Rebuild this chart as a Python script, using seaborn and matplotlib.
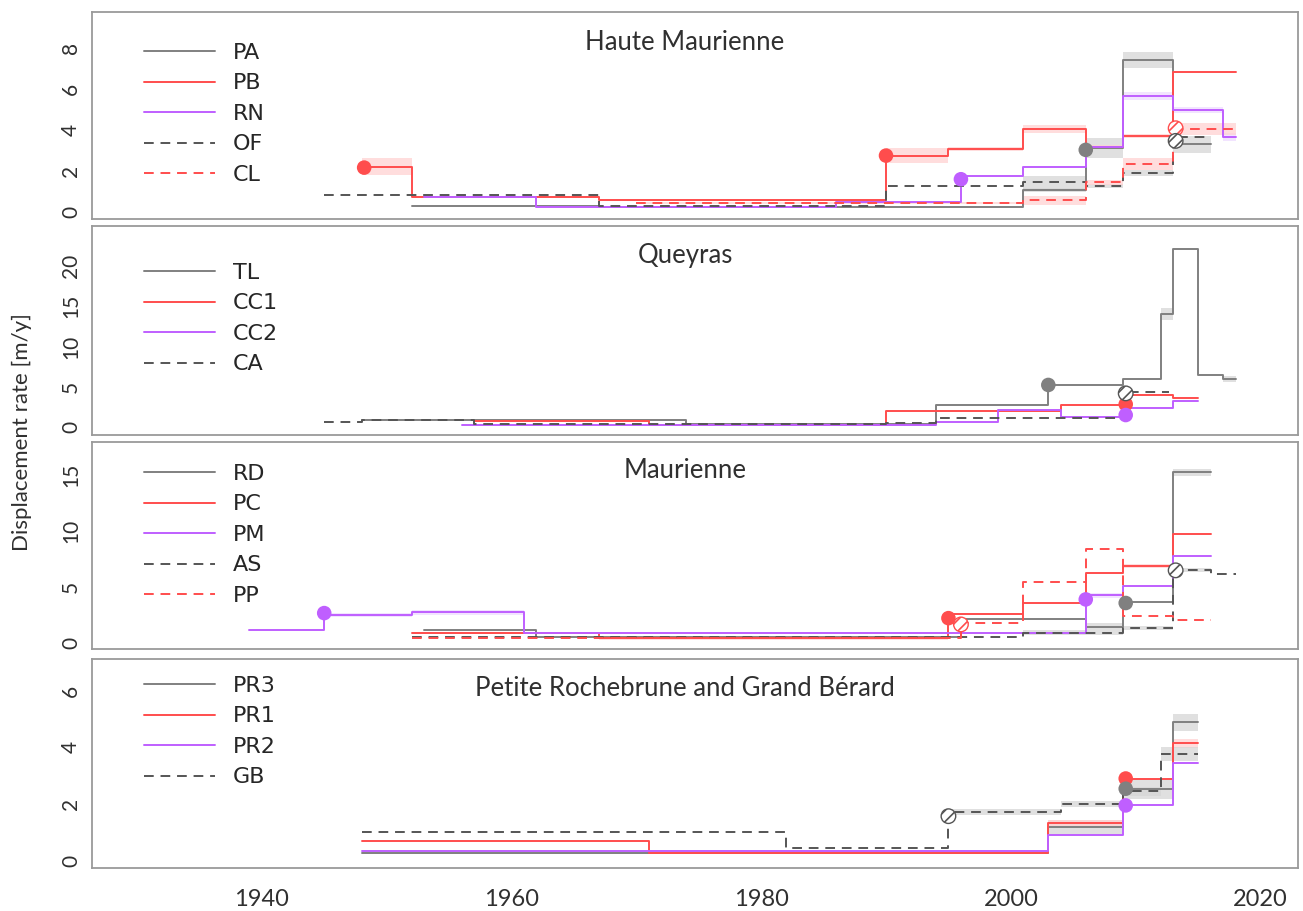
import numpy as np
import matplotlib
matplotlib.use("Agg")
import matplotlib.pyplot as plt
import seaborn as sns
from matplotlib.lines import Line2D

# ==========================================
# 1. STYLE
# ==========================================
sns.set_style("white")
plt.rcParams["font.family"] = ["Lato", "DejaVu Sans"]
plt.rcParams["hatch.linewidth"] = 1.2

GRAY = "#808080"
DGRAY = "#555555"
RED = "#ff4d4d"
PURPLE = "#bf5fff"
BAND = {GRAY: "#d6d6d6", DGRAY: "#d6d6d6", RED: "#ffd2d2", PURPLE: "#eedcff"}
EDGE = "#9a9a9a"
TXT = "#303030"

# ==========================================
# 2. DATA (step breaks in years, rate per step, half-width of band)
# ==========================================
# --- Haute Maurienne
pa_t = [1952, 1967, 2001, 2006, 2009, 2013, 2016]
pa_v = [0.28, 0.22, 1.06, 3.10, 7.42, 3.29]
pa_e = [0, 0, 0.1, 0.5, 0.4, 0.4]
pb_t = [1948, 1952, 1967, 1990, 1995, 2001, 2006, 2009, 2013, 2018]
pb_v = [2.20, 0.73, 0.55, 2.74, 3.07, 4.03, 3.18, 3.72, 6.82]
pb_e = [0.4, 0.05, 0.05, 0.35, 0.1, 0.2, 0.1, 0.1, 0]
rn_t = [1953, 1962, 1986, 1996, 2001, 2006, 2009, 2013, 2017, 2018]
rn_v = [0.73, 0.22, 0.45, 1.72, 2.17, 3.16, 5.67, 4.97, 3.64]
rn_e = [0.05, 0, 0, 0, 0, 0, 0.2, 0.15, 0.2]
of_t = [1945, 1967, 1990, 2001, 2006, 2009, 2013, 2016]
of_v = [0.80, 0.25, 1.27, 1.42, 1.26, 1.88, 3.65]
of_e = [0, 0, 0, 0.3, 0.1, 0.15, 0]
cl_t = [1970, 2001, 2006, 2009, 2013, 2018]
cl_v = [0.41, 0.54, 1.42, 2.32, 4.05]
cl_e = [0.05, 0.2, 0.1, 0.3, 0.3]
hm_dot_s = ["PB", "PB", "RN", "PA"]
hm_dot_t = [1948.2, 1990.0, 1996.0, 2006.0]
hm_dot_v = [2.15, 2.74, 1.58, 3.02]
hm_hat_s = ["CL", "OF"]
hm_hat_t = [2013.2, 2013.2]
hm_hat_v = [4.08, 3.46]

# --- Queyras
tl_t = [1948, 1974, 1994, 2003, 2009, 2012, 2013, 2015, 2017, 2018]
tl_v = [0.9, 0.4, 2.76, 5.24, 5.98, 14.0, 22.1, 6.48, 5.98]
tl_e = [0, 0, 0, 0, 0, 0.7, 0, 0, 0.4]
cc1_t = [1957, 1971, 1990, 2004, 2009, 2013, 2015]
cc1_v = [0.8, 0.3, 2.02, 2.73, 4.0, 3.57]
cc1_e = [0, 0, 0, 0, 0, 0]
cc2_t = [1956, 1994, 1999, 2004, 2009, 2013, 2015]
cc2_v = [0.3, 0.6, 2.15, 1.32, 2.35, 3.3]
cc2_e = [0, 0, 0, 0, 0, 0]
ca_t = [1945, 1948, 1957, 1990, 1994, 2009, 2012.7]
ca_v = [0.7, 0.9, 0.35, 0.5, 1.1, 4.4]
ca_e = [0, 0, 0, 0, 0, 0]
qy_dot_s = ["TL", "CC1", "CC2"]
qy_dot_t = [2003.0, 2009.2, 2009.2]
qy_dot_v = [5.24, 2.85, 1.52]
qy_hat_s = ["CA"]
qy_hat_t = [2009.2]
qy_hat_v = [4.2]

# --- Maurienne
rd_t = [1953, 1962, 1996, 2006, 2009, 2013, 2016]
rd_v = [1.1, 0.5, 2.15, 1.43, 3.6, 15.2]
rd_e = [0, 0, 0, 0.3, 0, 0.3]
pc_t = [1952, 1967, 1995, 2001, 2006, 2009, 2013, 2016]
pc_v = [0.87, 0.42, 2.54, 3.58, 6.26, 6.85, 9.68]
pc_e = [0.1, 0.15, 0.1, 0, 0, 0.15, 0]
pm_t = [1939, 1945, 1952, 1961, 2006, 2009, 2013, 2016]
pm_v = [1.17, 2.5, 2.71, 0.87, 4.23, 5.04, 7.74]
pm_e = [0, 0.2, 0.2, 0, 0.2, 0, 0]
as_t = [1952, 2001, 2009, 2013, 2016, 2018]
as_v = [0.5, 0.9, 1.3, 6.5, 6.17]
as_e = [0, 0.2, 0.2, 0.2, 0]
pp_t = [1952, 1996, 2001, 2006, 2009, 2013, 2016]
pp_v = [0.45, 1.8, 5.42, 8.4, 2.39, 2.06]
pp_e = [0, 0, 0, 0, 0, 0]
mn_dot_s = ["PM", "PC", "PM", "RD"]
mn_dot_t = [1945.0, 1995.0, 2006.0, 2009.2]
mn_dot_v = [2.65, 2.2, 3.87, 3.55]
mn_hat_s = ["PP", "AS"]
mn_hat_t = [1996.0, 2013.2]
mn_hat_v = [1.64, 6.46]

# --- Petite Rochebrune and Grand Berard
pr3_t = [1948, 2003, 2009, 2013, 2015]
pr3_v = [0.27, 1.18, 2.54, 4.88]
pr3_e = [0.05, 0.25, 0.35, 0.3]
pr1_t = [1948, 1971, 2003, 2009, 2013, 2015]
pr1_v = [0.71, 0.27, 1.34, 2.9, 4.14]
pr1_e = [0, 0.05, 0.1, 0, 0.15]
pr2_t = [1948, 2003, 2009, 2013, 2015]
pr2_v = [0.33, 0.92, 1.95, 3.46]
pr2_e = [0, 0, 0, 0]
gb_t = [1948, 1982, 1995, 2004, 2009, 2012, 2015]
gb_v = [1.0, 0.44, 1.71, 1.99, 2.45, 3.76]
gb_e = [0, 0, 0.1, 0.1, 0.15, 0.25]
pg_dot_s = ["PR1", "PR3", "PR2"]
pg_dot_t = [2009.2, 2009.2, 2009.2]
pg_dot_v = [2.9, 2.54, 1.95]
pg_hat_s = ["GB"]
pg_hat_t = [1995.0]
pg_hat_v = [1.57]

# ==========================================
# 3. PANEL DEFINITIONS
# ==========================================
panels = [
    dict(title="Haute Maurienne",
         series=[("PA", pa_t, pa_v, pa_e, GRAY, "-"), ("PB", pb_t, pb_v, pb_e, RED, "-"),
                 ("RN", rn_t, rn_v, rn_e, PURPLE, "-"), ("OF", of_t, of_v, of_e, DGRAY, "--"),
                 ("CL", cl_t, cl_v, cl_e, RED, "--")],
         dots=(hm_dot_s, hm_dot_t, hm_dot_v), hats=(hm_hat_s, hm_hat_t, hm_hat_v),
         ylim=(-0.37, 9.78), yticks=[0, 2, 4, 6, 8], box=(12, 219), leg_top=43, title_y=42),
    dict(title="Queyras",
         series=[("TL", tl_t, tl_v, tl_e, GRAY, "-"), ("CC1", cc1_t, cc1_v, cc1_e, RED, "-"),
                 ("CC2", cc2_t, cc2_v, cc2_e, PURPLE, "-"), ("CA", ca_t, ca_v, ca_e, DGRAY, "--")],
         dots=(qy_dot_s, qy_dot_t, qy_dot_v), hats=(qy_hat_s, qy_hat_t, qy_hat_v),
         ylim=(-0.95, 24.9), yticks=[0, 5, 10, 15, 20], box=(226, 435), leg_top=263, title_y=255),
    dict(title="Maurienne",
         series=[("RD", rd_t, rd_v, rd_e, GRAY, "-"), ("PC", pc_t, pc_v, pc_e, RED, "-"),
                 ("PM", pm_t, pm_v, pm_e, PURPLE, "-"), ("AS", as_t, as_v, as_e, DGRAY, "--"),
                 ("PP", pp_t, pp_v, pp_e, RED, "--")],
         dots=(mn_dot_s, mn_dot_t, mn_dot_v), hats=(mn_hat_s, mn_hat_t, mn_hat_v),
         ylim=(-0.55, 17.9), yticks=[0, 5, 10, 15], box=(442, 649), leg_top=464, title_y=470),
    dict(title="Petite Rochebrune and Grand Bérard",
         series=[("PR3", pr3_t, pr3_v, pr3_e, GRAY, "-"), ("PR1", pr1_t, pr1_v, pr1_e, RED, "-"),
                 ("PR2", pr2_t, pr2_v, pr2_e, PURPLE, "-"), ("GB", gb_t, gb_v, gb_e, DGRAY, "--")],
         dots=(pg_dot_s, pg_dot_t, pg_dot_v), hats=(pg_hat_s, pg_hat_t, pg_hat_v),
         ylim=(-0.26, 7.12), yticks=list(range(8)), box=(659, 868), leg_top=676, title_y=688),
]

W, H = 1303, 911
fig = plt.figure(figsize=(W / 100, H / 100), dpi=100)
X0, X1 = 92, 1298
DASH = (0, (5, 3.5))

for i, p in enumerate(panels):
    top, bot = p["box"]
    ax = fig.add_axes([X0 / W, 1 - bot / H, (X1 - X0) / W, (bot - top) / H])
    colors = {}
    handles = []
    for name, t, v, e, col, ls in p["series"]:
        colors[name] = col
        tt = np.array(t, dtype=float)
        vv = np.array(v + [v[-1]], dtype=float)
        ee = np.array(e + [e[-1]], dtype=float)
        ax.fill_between(tt, vv - ee, vv + ee, step="post", color=BAND[col], lw=0, alpha=0.75, zorder=1)
        sns.lineplot(x=tt, y=vv, ax=ax, color=col, lw=1.4, drawstyle="steps-post",
                     linestyle=DASH if ls == "--" else "-", estimator=None, sort=False, zorder=3)
        handles.append(Line2D([], [], color=col, lw=1.4, linestyle=DASH if ls == "--" else "-", label=name))

    s, t, v = p["dots"]
    sns.scatterplot(x=t, y=v, ax=ax, hue=s, palette=colors, s=110, edgecolor="none", legend=False, zorder=5)
    s, t, v = p["hats"]
    for name, tx, vy in zip(s, t, v):
        ax.scatter([tx], [vy], s=110, facecolor="white", edgecolor=colors[name], hatch="///",
                   linewidth=1.0, zorder=5)

    ax.set_xlim(1926.4, 2023.0)
    ax.set_ylim(*p["ylim"])
    ax.set_xticks([1940, 1960, 1980, 2000, 2020])
    ax.set_yticks(p["yticks"])
    if i == 3:
        ax.set_yticklabels([str(k) if k % 2 == 0 else "" for k in p["yticks"]])
    ax.set_xlabel("")
    ax.set_ylabel("")
    for sp in ax.spines.values():
        sp.set_color(EDGE)
        sp.set_linewidth(1.3)
    ax.tick_params(direction="out", length=4, width=1, color=EDGE, labelcolor=TXT, pad=4)
    ax.tick_params(axis="y", labelsize=15, labelrotation=90)
    for lbl in ax.get_yticklabels():
        lbl.set_va("center")
    ax.tick_params(axis="x", labelsize=17, labelbottom=(i == 3), pad=11)

    ax.text((685 - X0) / (X1 - X0), (bot - p["title_y"]) / (bot - top), p["title"],
            transform=ax.transAxes, ha="center", va="center", fontsize=18.5, color=TXT)
    ax.legend(handles=handles, loc="upper left",
              bbox_to_anchor=((144 - X0) / (X1 - X0), (bot - p["leg_top"]) / (bot - top)),
              frameon=False, borderpad=0, borderaxespad=0, handlelength=3.2,
              handletextpad=0.8, labelspacing=0.47,
              prop={"family": "DejaVu Sans", "size": 16})

fig.text(22 / W, 1 - 432 / H, "Displacement rate [m/y]", rotation=90, ha="center", va="center",
         fontsize=16, color=TXT)

plt.savefig("out.png", dpi=100)
plt.close()
